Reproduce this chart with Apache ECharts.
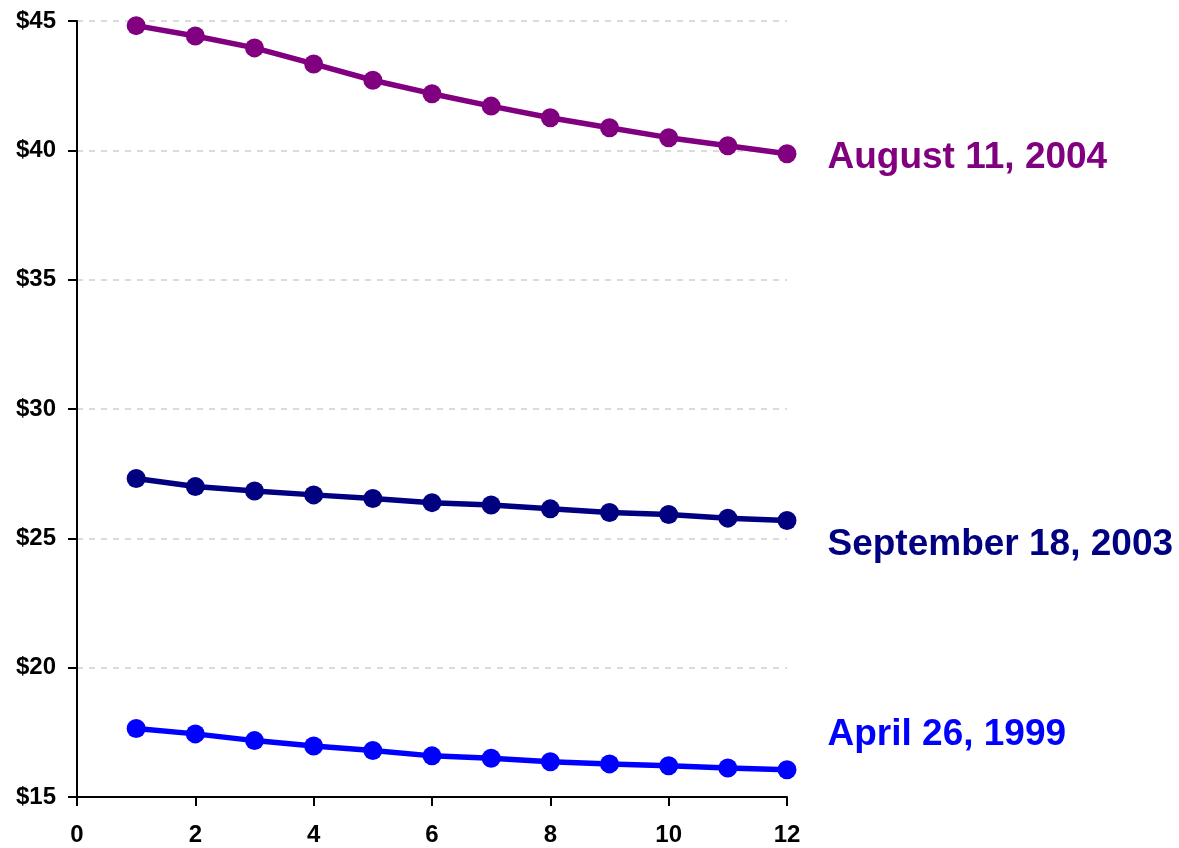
<!DOCTYPE html>
<html>
<head>
<meta charset="utf-8">
<title>chart</title>
<script src="https://cdn.jsdelivr.net/npm/echarts@6/dist/echarts.min.js"></script>
<style>
  html, body { margin: 0; padding: 0; background: #fff; }
  #chart { width: 1179px; height: 848px; }
</style>
</head>
<body>
<div id="chart"></div>
<script>
  // x: month index
  var months = [1, 2, 3, 4, 5, 6, 7, 8, 9, 10, 11, 12];
  var aug2004 = [44.82, 44.42, 43.96, 43.34, 42.71, 42.19, 41.71, 41.26, 40.87, 40.49, 40.18, 39.87];
  var sep2003 = [27.31, 27.0, 26.83, 26.68, 26.54, 26.38, 26.29, 26.14, 26.0, 25.92, 25.78, 25.69];
  var apr1999 = [17.65, 17.44, 17.18, 16.97, 16.8, 16.59, 16.5, 16.36, 16.28, 16.21, 16.12, 16.05];
  var seriesNames = ['August 11, 2004', 'September 18, 2003', 'April 26, 1999'];
  var seriesColors = ['#800080', '#000080', '#0000ff'];
  var labelOffsets = [[0, 4], [0, 24], [0, -35]];

  var font = '"Liberation Sans", Arial, sans-serif';

  function buildData(vals, idx) {
    return vals.map(function (v, i) {
      if (i === vals.length - 1) {
        return {
          value: [months[i], v],
          label: {
            show: true,
            position: 'right',
            distance: 31,
            offset: labelOffsets[idx],
            formatter: seriesNames[idx],
            color: seriesColors[idx],
            fontSize: 37,
            fontWeight: 'bold',
            fontFamily: font
          }
        };
      }
      return [months[i], v];
    });
  }

  var chart = echarts.init(document.getElementById('chart'));
  chart.setOption({
    animation: false,
    backgroundColor: '#fff',
    grid: { left: 77, right: 392, top: 21, bottom: 51, containLabel: false },
    xAxis: {
      type: 'value',
      min: 0,
      max: 12,
      interval: 2,
      axisLine: { lineStyle: { color: '#000', width: 2 } },
      axisTick: { show: true, length: 9, lineStyle: { color: '#000', width: 2 } },
      axisLabel: { color: '#000', fontSize: 24, fontWeight: 'bold', fontFamily: font, margin: 26 },
      splitLine: { show: false }
    },
    yAxis: {
      type: 'value',
      min: 15,
      max: 45,
      interval: 5,
      axisLine: { show: true, lineStyle: { color: '#000', width: 2 } },
      axisTick: { show: true, length: 9, lineStyle: { color: '#000', width: 2 } },
      axisLabel: {
        color: '#000', fontSize: 24, fontWeight: 'bold', fontFamily: font, margin: 21,
        formatter: function (v) { return '$' + v; }
      },
      splitLine: { show: true, lineStyle: { color: '#d0d0d0', width: 1.5, type: [6, 6] } }
    },
    series: [aug2004, sep2003, apr1999].map(function (vals, idx) {
      return {
        name: seriesNames[idx],
        type: 'line',
        data: buildData(vals, idx),
        symbol: 'circle',
        symbolSize: 19,
        color: seriesColors[idx],
        lineStyle: { width: 5.5, color: seriesColors[idx] },
        itemStyle: { color: seriesColors[idx] }
      };
    })
  });
</script>
</body>
</html>
